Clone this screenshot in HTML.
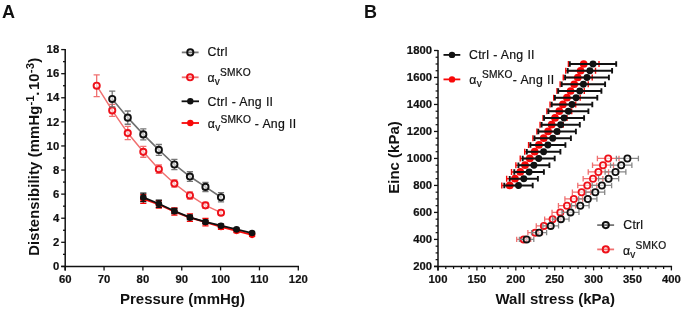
<!DOCTYPE html>
<html><head><meta charset="utf-8"><style>
html,body{margin:0;padding:0;background:#fff;}
body{width:685px;height:311px;overflow:hidden;}
svg{display:block;will-change:transform;}
text{font-family:"Liberation Sans", sans-serif;fill:#111;}
.tk{font-size:11.3px;font-weight:bold;stroke:#111;stroke-width:0.2px;}
.ttl{font-size:15px;font-weight:bold;}
.sup{font-size:11.5px;}
.lg{font-size:12.3px;stroke:#111;stroke-width:0.2px;word-spacing:0.4px;letter-spacing:0.22px;}
.sub{font-size:10px;}
.sup2{font-size:10.2px;}
.pl{font-size:18px;font-weight:bold;}
</style></head><body>
<svg width="685" height="311" viewBox="0 0 685 311">
<line x1="65.20" y1="49.09" x2="65.20" y2="270.40" stroke="#111" stroke-width="1.5"/>
<line x1="61.20" y1="266.40" x2="299.00" y2="266.40" stroke="#111" stroke-width="1.5"/>
<line x1="61.20" y1="266.40" x2="65.20" y2="266.40" stroke="#111" stroke-width="1.3"/>
<text x="59.20" y="270.10" text-anchor="end" class="tk">0</text>
<line x1="61.20" y1="242.31" x2="65.20" y2="242.31" stroke="#111" stroke-width="1.3"/>
<text x="59.20" y="246.01" text-anchor="end" class="tk">2</text>
<line x1="61.20" y1="218.22" x2="65.20" y2="218.22" stroke="#111" stroke-width="1.3"/>
<text x="59.20" y="221.92" text-anchor="end" class="tk">4</text>
<line x1="61.20" y1="194.13" x2="65.20" y2="194.13" stroke="#111" stroke-width="1.3"/>
<text x="59.20" y="197.83" text-anchor="end" class="tk">6</text>
<line x1="61.20" y1="170.04" x2="65.20" y2="170.04" stroke="#111" stroke-width="1.3"/>
<text x="59.20" y="173.74" text-anchor="end" class="tk">8</text>
<line x1="61.20" y1="145.95" x2="65.20" y2="145.95" stroke="#111" stroke-width="1.3"/>
<text x="59.20" y="149.65" text-anchor="end" class="tk">10</text>
<line x1="61.20" y1="121.86" x2="65.20" y2="121.86" stroke="#111" stroke-width="1.3"/>
<text x="59.20" y="125.56" text-anchor="end" class="tk">12</text>
<line x1="61.20" y1="97.77" x2="65.20" y2="97.77" stroke="#111" stroke-width="1.3"/>
<text x="59.20" y="101.47" text-anchor="end" class="tk">14</text>
<line x1="61.20" y1="73.68" x2="65.20" y2="73.68" stroke="#111" stroke-width="1.3"/>
<text x="59.20" y="77.38" text-anchor="end" class="tk">16</text>
<line x1="61.20" y1="49.59" x2="65.20" y2="49.59" stroke="#111" stroke-width="1.3"/>
<text x="59.20" y="53.29" text-anchor="end" class="tk">18</text>
<line x1="63.00" y1="254.35" x2="65.20" y2="254.35" stroke="#111" stroke-width="1.3"/>
<line x1="63.00" y1="230.26" x2="65.20" y2="230.26" stroke="#111" stroke-width="1.3"/>
<line x1="63.00" y1="206.17" x2="65.20" y2="206.17" stroke="#111" stroke-width="1.3"/>
<line x1="63.00" y1="182.08" x2="65.20" y2="182.08" stroke="#111" stroke-width="1.3"/>
<line x1="63.00" y1="157.99" x2="65.20" y2="157.99" stroke="#111" stroke-width="1.3"/>
<line x1="63.00" y1="133.90" x2="65.20" y2="133.90" stroke="#111" stroke-width="1.3"/>
<line x1="63.00" y1="109.81" x2="65.20" y2="109.81" stroke="#111" stroke-width="1.3"/>
<line x1="63.00" y1="85.72" x2="65.20" y2="85.72" stroke="#111" stroke-width="1.3"/>
<line x1="63.00" y1="61.63" x2="65.20" y2="61.63" stroke="#111" stroke-width="1.3"/>
<line x1="65.20" y1="266.40" x2="65.20" y2="270.40" stroke="#111" stroke-width="1.3"/>
<text x="65.20" y="283.00" text-anchor="middle" class="tk">60</text>
<line x1="104.05" y1="266.40" x2="104.05" y2="270.40" stroke="#111" stroke-width="1.3"/>
<text x="104.05" y="283.00" text-anchor="middle" class="tk">70</text>
<line x1="142.90" y1="266.40" x2="142.90" y2="270.40" stroke="#111" stroke-width="1.3"/>
<text x="142.90" y="283.00" text-anchor="middle" class="tk">80</text>
<line x1="181.75" y1="266.40" x2="181.75" y2="270.40" stroke="#111" stroke-width="1.3"/>
<text x="181.75" y="283.00" text-anchor="middle" class="tk">90</text>
<line x1="220.60" y1="266.40" x2="220.60" y2="270.40" stroke="#111" stroke-width="1.3"/>
<text x="220.60" y="283.00" text-anchor="middle" class="tk">100</text>
<line x1="259.45" y1="266.40" x2="259.45" y2="270.40" stroke="#111" stroke-width="1.3"/>
<text x="259.45" y="283.00" text-anchor="middle" class="tk">110</text>
<line x1="298.30" y1="266.40" x2="298.30" y2="270.40" stroke="#111" stroke-width="1.3"/>
<text x="298.30" y="283.00" text-anchor="middle" class="tk">120</text>
<text x="182.5" y="304" text-anchor="middle" class="ttl">Pressure (mmHg)</text>
<text transform="translate(38.6,156.7) rotate(-90)" text-anchor="middle" class="ttl" style="font-size:14.8px;letter-spacing:0.15px">Distensibility (mmHg<tspan dy="-5" class="sup">-1</tspan><tspan dy="5" dx="-0.8">.</tspan><tspan dx="1.6">10</tspan><tspan dy="-5" class="sup">-3</tspan><tspan dy="5">)</tspan></text>
<line x1="438.00" y1="50.00" x2="438.00" y2="270.40" stroke="#111" stroke-width="1.5"/>
<line x1="434.00" y1="266.40" x2="672.10" y2="266.40" stroke="#111" stroke-width="1.5"/>
<line x1="434.00" y1="266.40" x2="438.00" y2="266.40" stroke="#111" stroke-width="1.3"/>
<text x="432.00" y="269.70" text-anchor="end" class="tk">200</text>
<line x1="434.00" y1="239.41" x2="438.00" y2="239.41" stroke="#111" stroke-width="1.3"/>
<text x="432.00" y="242.71" text-anchor="end" class="tk">400</text>
<line x1="434.00" y1="212.42" x2="438.00" y2="212.42" stroke="#111" stroke-width="1.3"/>
<text x="432.00" y="215.72" text-anchor="end" class="tk">600</text>
<line x1="434.00" y1="185.44" x2="438.00" y2="185.44" stroke="#111" stroke-width="1.3"/>
<text x="432.00" y="188.74" text-anchor="end" class="tk">800</text>
<line x1="434.00" y1="158.45" x2="438.00" y2="158.45" stroke="#111" stroke-width="1.3"/>
<text x="432.00" y="161.75" text-anchor="end" class="tk">1000</text>
<line x1="434.00" y1="131.46" x2="438.00" y2="131.46" stroke="#111" stroke-width="1.3"/>
<text x="432.00" y="134.76" text-anchor="end" class="tk">1200</text>
<line x1="434.00" y1="104.47" x2="438.00" y2="104.47" stroke="#111" stroke-width="1.3"/>
<text x="432.00" y="107.77" text-anchor="end" class="tk">1400</text>
<line x1="434.00" y1="77.48" x2="438.00" y2="77.48" stroke="#111" stroke-width="1.3"/>
<text x="432.00" y="80.78" text-anchor="end" class="tk">1600</text>
<line x1="434.00" y1="50.50" x2="438.00" y2="50.50" stroke="#111" stroke-width="1.3"/>
<text x="432.00" y="53.80" text-anchor="end" class="tk">1800</text>
<line x1="435.60" y1="259.65" x2="438.00" y2="259.65" stroke="#111" stroke-width="1.2"/>
<line x1="435.60" y1="252.91" x2="438.00" y2="252.91" stroke="#111" stroke-width="1.2"/>
<line x1="435.60" y1="246.16" x2="438.00" y2="246.16" stroke="#111" stroke-width="1.2"/>
<line x1="435.60" y1="232.66" x2="438.00" y2="232.66" stroke="#111" stroke-width="1.2"/>
<line x1="435.60" y1="225.92" x2="438.00" y2="225.92" stroke="#111" stroke-width="1.2"/>
<line x1="435.60" y1="219.17" x2="438.00" y2="219.17" stroke="#111" stroke-width="1.2"/>
<line x1="435.60" y1="205.68" x2="438.00" y2="205.68" stroke="#111" stroke-width="1.2"/>
<line x1="435.60" y1="198.93" x2="438.00" y2="198.93" stroke="#111" stroke-width="1.2"/>
<line x1="435.60" y1="192.18" x2="438.00" y2="192.18" stroke="#111" stroke-width="1.2"/>
<line x1="435.60" y1="178.69" x2="438.00" y2="178.69" stroke="#111" stroke-width="1.2"/>
<line x1="435.60" y1="171.94" x2="438.00" y2="171.94" stroke="#111" stroke-width="1.2"/>
<line x1="435.60" y1="165.19" x2="438.00" y2="165.19" stroke="#111" stroke-width="1.2"/>
<line x1="435.60" y1="151.70" x2="438.00" y2="151.70" stroke="#111" stroke-width="1.2"/>
<line x1="435.60" y1="144.95" x2="438.00" y2="144.95" stroke="#111" stroke-width="1.2"/>
<line x1="435.60" y1="138.21" x2="438.00" y2="138.21" stroke="#111" stroke-width="1.2"/>
<line x1="435.60" y1="124.71" x2="438.00" y2="124.71" stroke="#111" stroke-width="1.2"/>
<line x1="435.60" y1="117.97" x2="438.00" y2="117.97" stroke="#111" stroke-width="1.2"/>
<line x1="435.60" y1="111.22" x2="438.00" y2="111.22" stroke="#111" stroke-width="1.2"/>
<line x1="435.60" y1="97.72" x2="438.00" y2="97.72" stroke="#111" stroke-width="1.2"/>
<line x1="435.60" y1="90.98" x2="438.00" y2="90.98" stroke="#111" stroke-width="1.2"/>
<line x1="435.60" y1="84.23" x2="438.00" y2="84.23" stroke="#111" stroke-width="1.2"/>
<line x1="435.60" y1="70.74" x2="438.00" y2="70.74" stroke="#111" stroke-width="1.2"/>
<line x1="435.60" y1="63.99" x2="438.00" y2="63.99" stroke="#111" stroke-width="1.2"/>
<line x1="435.60" y1="57.24" x2="438.00" y2="57.24" stroke="#111" stroke-width="1.2"/>
<line x1="438.00" y1="266.40" x2="438.00" y2="270.40" stroke="#111" stroke-width="1.3"/>
<text x="438.00" y="283.00" text-anchor="middle" class="tk">100</text>
<line x1="476.90" y1="266.40" x2="476.90" y2="270.40" stroke="#111" stroke-width="1.3"/>
<text x="476.90" y="283.00" text-anchor="middle" class="tk">150</text>
<line x1="515.80" y1="266.40" x2="515.80" y2="270.40" stroke="#111" stroke-width="1.3"/>
<text x="515.80" y="283.00" text-anchor="middle" class="tk">200</text>
<line x1="554.70" y1="266.40" x2="554.70" y2="270.40" stroke="#111" stroke-width="1.3"/>
<text x="554.70" y="283.00" text-anchor="middle" class="tk">250</text>
<line x1="593.60" y1="266.40" x2="593.60" y2="270.40" stroke="#111" stroke-width="1.3"/>
<text x="593.60" y="283.00" text-anchor="middle" class="tk">300</text>
<line x1="632.50" y1="266.40" x2="632.50" y2="270.40" stroke="#111" stroke-width="1.3"/>
<text x="632.50" y="283.00" text-anchor="middle" class="tk">350</text>
<line x1="671.40" y1="266.40" x2="671.40" y2="270.40" stroke="#111" stroke-width="1.3"/>
<text x="671.40" y="283.00" text-anchor="middle" class="tk">400</text>
<line x1="445.78" y1="266.40" x2="445.78" y2="268.90" stroke="#111" stroke-width="1.2"/>
<line x1="453.56" y1="266.40" x2="453.56" y2="268.90" stroke="#111" stroke-width="1.2"/>
<line x1="461.34" y1="266.40" x2="461.34" y2="268.90" stroke="#111" stroke-width="1.2"/>
<line x1="469.12" y1="266.40" x2="469.12" y2="268.90" stroke="#111" stroke-width="1.2"/>
<line x1="484.68" y1="266.40" x2="484.68" y2="268.90" stroke="#111" stroke-width="1.2"/>
<line x1="492.46" y1="266.40" x2="492.46" y2="268.90" stroke="#111" stroke-width="1.2"/>
<line x1="500.24" y1="266.40" x2="500.24" y2="268.90" stroke="#111" stroke-width="1.2"/>
<line x1="508.02" y1="266.40" x2="508.02" y2="268.90" stroke="#111" stroke-width="1.2"/>
<line x1="523.58" y1="266.40" x2="523.58" y2="268.90" stroke="#111" stroke-width="1.2"/>
<line x1="531.36" y1="266.40" x2="531.36" y2="268.90" stroke="#111" stroke-width="1.2"/>
<line x1="539.14" y1="266.40" x2="539.14" y2="268.90" stroke="#111" stroke-width="1.2"/>
<line x1="546.92" y1="266.40" x2="546.92" y2="268.90" stroke="#111" stroke-width="1.2"/>
<line x1="562.48" y1="266.40" x2="562.48" y2="268.90" stroke="#111" stroke-width="1.2"/>
<line x1="570.26" y1="266.40" x2="570.26" y2="268.90" stroke="#111" stroke-width="1.2"/>
<line x1="578.04" y1="266.40" x2="578.04" y2="268.90" stroke="#111" stroke-width="1.2"/>
<line x1="585.82" y1="266.40" x2="585.82" y2="268.90" stroke="#111" stroke-width="1.2"/>
<line x1="601.38" y1="266.40" x2="601.38" y2="268.90" stroke="#111" stroke-width="1.2"/>
<line x1="609.16" y1="266.40" x2="609.16" y2="268.90" stroke="#111" stroke-width="1.2"/>
<line x1="616.94" y1="266.40" x2="616.94" y2="268.90" stroke="#111" stroke-width="1.2"/>
<line x1="624.72" y1="266.40" x2="624.72" y2="268.90" stroke="#111" stroke-width="1.2"/>
<line x1="640.28" y1="266.40" x2="640.28" y2="268.90" stroke="#111" stroke-width="1.2"/>
<line x1="648.06" y1="266.40" x2="648.06" y2="268.90" stroke="#111" stroke-width="1.2"/>
<line x1="655.84" y1="266.40" x2="655.84" y2="268.90" stroke="#111" stroke-width="1.2"/>
<line x1="663.62" y1="266.40" x2="663.62" y2="268.90" stroke="#111" stroke-width="1.2"/>
<text x="555.2" y="304" text-anchor="middle" class="ttl">Wall stress (kPa)</text>
<text transform="translate(399.2,157.5) rotate(-90)" text-anchor="middle" class="ttl">Einc (kPa)</text>
<path d="M96.68 74.88V96.57M93.58 74.88H99.78M93.58 96.57H99.78" stroke="#f07070" stroke-width="1.3" fill="none"/>
<path d="M112.22 104.39V116.44M109.12 104.39H115.32M109.12 116.44H115.32" stroke="#f07070" stroke-width="1.3" fill="none"/>
<path d="M127.76 126.44V139.69M124.66 126.44H130.86M124.66 139.69H130.86" stroke="#f07070" stroke-width="1.3" fill="none"/>
<path d="M143.30 146.43V157.27M140.20 146.43H146.40M140.20 157.27H146.40" stroke="#f07070" stroke-width="1.3" fill="none"/>
<path d="M158.84 164.98V173.41M155.74 164.98H161.94M155.74 173.41H161.94" stroke="#f07070" stroke-width="1.3" fill="none"/>
<path d="M174.38 179.92V187.14M171.28 179.92H177.48M171.28 187.14H177.48" stroke="#f07070" stroke-width="1.3" fill="none"/>
<path d="M189.92 191.84V199.07M186.82 191.84H193.02M186.82 199.07H193.02" stroke="#f07070" stroke-width="1.3" fill="none"/>
<path d="M205.46 202.32V208.34M202.36 202.32H208.56M202.36 208.34H208.56" stroke="#f07070" stroke-width="1.3" fill="none"/>
<path d="M221.00 210.27V215.09M217.90 210.27H224.10M217.90 215.09H224.10" stroke="#f07070" stroke-width="1.3" fill="none"/>
<path d="M96.68 85.72 L112.22 110.42 L127.76 133.06 L143.30 151.85 L158.84 169.20 L174.38 183.53 L189.92 195.45 L205.46 205.33 L221.00 212.68" stroke="#f07070" stroke-width="1.5" fill="none"/>
<circle cx="96.68" cy="85.72" r="3.1" fill="#fff" fill-opacity="0.6" stroke="#ee1019" stroke-width="1.9"/>
<circle cx="112.22" cy="110.42" r="3.1" fill="#fff" fill-opacity="0.6" stroke="#ee1019" stroke-width="1.9"/>
<circle cx="127.76" cy="133.06" r="3.1" fill="#fff" fill-opacity="0.6" stroke="#ee1019" stroke-width="1.9"/>
<circle cx="143.30" cy="151.85" r="3.1" fill="#fff" fill-opacity="0.6" stroke="#ee1019" stroke-width="1.9"/>
<circle cx="158.84" cy="169.20" r="3.1" fill="#fff" fill-opacity="0.6" stroke="#ee1019" stroke-width="1.9"/>
<circle cx="174.38" cy="183.53" r="3.1" fill="#fff" fill-opacity="0.6" stroke="#ee1019" stroke-width="1.9"/>
<circle cx="189.92" cy="195.45" r="3.1" fill="#fff" fill-opacity="0.6" stroke="#ee1019" stroke-width="1.9"/>
<circle cx="205.46" cy="205.33" r="3.1" fill="#fff" fill-opacity="0.6" stroke="#ee1019" stroke-width="1.9"/>
<circle cx="221.00" cy="212.68" r="3.1" fill="#fff" fill-opacity="0.6" stroke="#ee1019" stroke-width="1.9"/>
<path d="M112.22 91.15V106.80M109.12 91.15H115.32M109.12 106.80H115.32" stroke="#777" stroke-width="1.3" fill="none"/>
<path d="M127.76 111.02V124.27M124.66 111.02H130.86M124.66 124.27H130.86" stroke="#777" stroke-width="1.3" fill="none"/>
<path d="M143.30 128.97V139.81M140.20 128.97H146.40M140.20 139.81H146.40" stroke="#777" stroke-width="1.3" fill="none"/>
<path d="M158.84 144.50V155.35M155.74 144.50H161.94M155.74 155.35H161.94" stroke="#777" stroke-width="1.3" fill="none"/>
<path d="M174.38 159.44V169.56M171.28 159.44H177.48M171.28 169.56H177.48" stroke="#777" stroke-width="1.3" fill="none"/>
<path d="M189.92 171.73V181.36M186.82 171.73H193.02M186.82 181.36H193.02" stroke="#777" stroke-width="1.3" fill="none"/>
<path d="M205.46 182.33V191.48M202.36 182.33H208.56M202.36 191.48H208.56" stroke="#777" stroke-width="1.3" fill="none"/>
<path d="M221.00 192.68V201.84M217.90 192.68H224.10M217.90 201.84H224.10" stroke="#777" stroke-width="1.3" fill="none"/>
<path d="M112.22 98.97 L127.76 117.64 L143.30 134.39 L158.84 149.92 L174.38 164.50 L189.92 176.54 L205.46 186.90 L221.00 197.26" stroke="#707070" stroke-width="1.6" fill="none"/>
<circle cx="112.22" cy="98.97" r="3.1" fill="#fff" fill-opacity="0.6" stroke="#111" stroke-width="1.9"/>
<circle cx="127.76" cy="117.64" r="3.1" fill="#fff" fill-opacity="0.6" stroke="#111" stroke-width="1.9"/>
<circle cx="143.30" cy="134.39" r="3.1" fill="#fff" fill-opacity="0.6" stroke="#111" stroke-width="1.9"/>
<circle cx="158.84" cy="149.92" r="3.1" fill="#fff" fill-opacity="0.6" stroke="#111" stroke-width="1.9"/>
<circle cx="174.38" cy="164.50" r="3.1" fill="#fff" fill-opacity="0.6" stroke="#111" stroke-width="1.9"/>
<circle cx="189.92" cy="176.54" r="3.1" fill="#fff" fill-opacity="0.6" stroke="#111" stroke-width="1.9"/>
<circle cx="205.46" cy="186.90" r="3.1" fill="#fff" fill-opacity="0.6" stroke="#111" stroke-width="1.9"/>
<circle cx="221.00" cy="197.26" r="3.1" fill="#fff" fill-opacity="0.6" stroke="#111" stroke-width="1.9"/>
<path d="M143.30 194.61V203.28M140.20 194.61H146.40M140.20 203.28H146.40" stroke="#f80808" stroke-width="1.3" fill="none"/>
<path d="M158.84 200.75V208.22M155.74 200.75H161.94M155.74 208.22H161.94" stroke="#f80808" stroke-width="1.3" fill="none"/>
<path d="M174.38 207.98V215.21M171.28 207.98H177.48M171.28 215.21H177.48" stroke="#f80808" stroke-width="1.3" fill="none"/>
<path d="M189.92 213.88V221.35M186.82 213.88H193.02M186.82 221.35H193.02" stroke="#f80808" stroke-width="1.3" fill="none"/>
<path d="M205.46 218.46V225.93M202.36 218.46H208.56M202.36 225.93H208.56" stroke="#f80808" stroke-width="1.3" fill="none"/>
<path d="M221.00 224.48V229.30M217.90 224.48H224.10M217.90 229.30H224.10" stroke="#f80808" stroke-width="1.3" fill="none"/>
<path d="M236.54 229.06V232.67M233.44 229.06H239.64M233.44 232.67H239.64" stroke="#f80808" stroke-width="1.3" fill="none"/>
<path d="M252.08 233.40V236.29M248.98 233.40H255.18M248.98 236.29H255.18" stroke="#f80808" stroke-width="1.3" fill="none"/>
<path d="M143.30 198.95 L158.84 204.49 L174.38 211.60 L189.92 217.62 L205.46 222.19 L221.00 226.89 L236.54 230.87 L252.08 234.84" stroke="#f80808" stroke-width="1.8" fill="none"/>
<circle cx="143.30" cy="198.95" r="3.3" fill="#f80808"/>
<circle cx="158.84" cy="204.49" r="3.3" fill="#f80808"/>
<circle cx="174.38" cy="211.60" r="3.3" fill="#f80808"/>
<circle cx="189.92" cy="217.62" r="3.3" fill="#f80808"/>
<circle cx="205.46" cy="222.19" r="3.3" fill="#f80808"/>
<circle cx="221.00" cy="226.89" r="3.3" fill="#f80808"/>
<circle cx="236.54" cy="230.87" r="3.3" fill="#f80808"/>
<circle cx="252.08" cy="234.84" r="3.3" fill="#f80808"/>
<path d="M143.30 193.05V201.72M140.20 193.05H146.40M140.20 201.72H146.40" stroke="#111" stroke-width="1.3" fill="none"/>
<path d="M158.84 200.15V207.38M155.74 200.15H161.94M155.74 207.38H161.94" stroke="#111" stroke-width="1.3" fill="none"/>
<path d="M174.38 208.34V213.64M171.28 208.34H177.48M171.28 213.64H177.48" stroke="#111" stroke-width="1.3" fill="none"/>
<path d="M189.92 215.21V219.54M186.82 215.21H193.02M186.82 219.54H193.02" stroke="#111" stroke-width="1.3" fill="none"/>
<path d="M205.46 220.15V223.76M202.36 220.15H208.56M202.36 223.76H208.56" stroke="#111" stroke-width="1.3" fill="none"/>
<path d="M221.00 224.24V227.13M217.90 224.24H224.10M217.90 227.13H224.10" stroke="#111" stroke-width="1.3" fill="none"/>
<path d="M236.54 228.22V230.63M233.44 228.22H239.64M233.44 230.63H239.64" stroke="#111" stroke-width="1.3" fill="none"/>
<path d="M252.08 232.07V234.00M248.98 232.07H255.18M248.98 234.00H255.18" stroke="#111" stroke-width="1.3" fill="none"/>
<path d="M143.30 197.38 L158.84 203.77 L174.38 210.99 L189.92 217.38 L205.46 221.95 L221.00 225.69 L236.54 229.42 L252.08 233.04" stroke="#111" stroke-width="1.8" fill="none"/>
<circle cx="143.30" cy="197.38" r="3.3" fill="#111"/>
<circle cx="158.84" cy="203.77" r="3.3" fill="#111"/>
<circle cx="174.38" cy="210.99" r="3.3" fill="#111"/>
<circle cx="189.92" cy="217.38" r="3.3" fill="#111"/>
<circle cx="205.46" cy="221.95" r="3.3" fill="#111"/>
<circle cx="221.00" cy="225.69" r="3.3" fill="#111"/>
<circle cx="236.54" cy="229.42" r="3.3" fill="#111"/>
<circle cx="252.08" cy="233.04" r="3.3" fill="#111"/>
<path d="M516.70 239.41H530.70M516.70 236.71V242.11M530.70 236.71V242.11" stroke="#f07070" stroke-width="1.3" fill="none"/>
<path d="M527.88 232.66H542.52M527.88 229.96V235.36M542.52 229.96V235.36" stroke="#f07070" stroke-width="1.3" fill="none"/>
<path d="M536.27 225.92H551.53M536.27 223.22V228.62M551.53 223.22V228.62" stroke="#f07070" stroke-width="1.3" fill="none"/>
<path d="M544.65 219.17H560.55M544.65 216.47V221.87M560.55 216.47V221.87" stroke="#f07070" stroke-width="1.3" fill="none"/>
<path d="M552.03 212.42H568.57M552.03 209.72V215.12M568.57 209.72V215.12" stroke="#f07070" stroke-width="1.3" fill="none"/>
<path d="M558.42 205.68H575.58M558.42 202.98V208.38M575.58 202.98V208.38" stroke="#f07070" stroke-width="1.3" fill="none"/>
<path d="M564.90 198.93H582.70M564.90 196.23V201.63M582.70 196.23V201.63" stroke="#f07070" stroke-width="1.3" fill="none"/>
<path d="M572.38 192.18H590.82M572.38 189.48V194.88M590.82 189.48V194.88" stroke="#f07070" stroke-width="1.3" fill="none"/>
<path d="M577.77 185.44H596.83M577.77 182.74V188.14M596.83 182.74V188.14" stroke="#f07070" stroke-width="1.3" fill="none"/>
<path d="M583.15 178.69H602.85M583.15 175.99V181.39M602.85 175.99V181.39" stroke="#f07070" stroke-width="1.3" fill="none"/>
<path d="M588.23 171.94H608.57M588.23 169.24V174.64M608.57 169.24V174.64" stroke="#f07070" stroke-width="1.3" fill="none"/>
<path d="M592.52 165.19H613.48M592.52 162.50V167.89M613.48 162.50V167.89" stroke="#f07070" stroke-width="1.3" fill="none"/>
<path d="M597.40 158.45H619.00M597.40 155.75V161.15M619.00 155.75V161.15" stroke="#f07070" stroke-width="1.3" fill="none"/>
<circle cx="523.70" cy="239.41" r="3.1" fill="#fff" fill-opacity="0.6" stroke="#ee1019" stroke-width="1.8"/>
<circle cx="535.20" cy="232.66" r="3.1" fill="#fff" fill-opacity="0.6" stroke="#ee1019" stroke-width="1.8"/>
<circle cx="543.90" cy="225.92" r="3.1" fill="#fff" fill-opacity="0.6" stroke="#ee1019" stroke-width="1.8"/>
<circle cx="552.60" cy="219.17" r="3.1" fill="#fff" fill-opacity="0.6" stroke="#ee1019" stroke-width="1.8"/>
<circle cx="560.30" cy="212.42" r="3.1" fill="#fff" fill-opacity="0.6" stroke="#ee1019" stroke-width="1.8"/>
<circle cx="567.00" cy="205.68" r="3.1" fill="#fff" fill-opacity="0.6" stroke="#ee1019" stroke-width="1.8"/>
<circle cx="573.80" cy="198.93" r="3.1" fill="#fff" fill-opacity="0.6" stroke="#ee1019" stroke-width="1.8"/>
<circle cx="581.60" cy="192.18" r="3.1" fill="#fff" fill-opacity="0.6" stroke="#ee1019" stroke-width="1.8"/>
<circle cx="587.30" cy="185.44" r="3.1" fill="#fff" fill-opacity="0.6" stroke="#ee1019" stroke-width="1.8"/>
<circle cx="593.00" cy="178.69" r="3.1" fill="#fff" fill-opacity="0.6" stroke="#ee1019" stroke-width="1.8"/>
<circle cx="598.40" cy="171.94" r="3.1" fill="#fff" fill-opacity="0.6" stroke="#ee1019" stroke-width="1.8"/>
<circle cx="603.00" cy="165.19" r="3.1" fill="#fff" fill-opacity="0.6" stroke="#ee1019" stroke-width="1.8"/>
<circle cx="608.20" cy="158.45" r="3.1" fill="#fff" fill-opacity="0.6" stroke="#ee1019" stroke-width="1.8"/>
<path d="M519.40 239.41H533.80M519.40 236.71V242.11M533.80 236.71V242.11" stroke="#888" stroke-width="1.3" fill="none"/>
<path d="M531.58 232.66H546.62M531.58 229.96V235.36M546.62 229.96V235.36" stroke="#888" stroke-width="1.3" fill="none"/>
<path d="M542.87 225.92H558.53M542.87 223.22V228.62M558.53 223.22V228.62" stroke="#888" stroke-width="1.3" fill="none"/>
<path d="M552.75 219.17H569.05M552.75 216.47V221.87M569.05 216.47V221.87" stroke="#888" stroke-width="1.3" fill="none"/>
<path d="M562.03 212.42H578.97M562.03 209.72V215.12M578.97 209.72V215.12" stroke="#888" stroke-width="1.3" fill="none"/>
<path d="M571.52 205.68H589.08M571.52 202.98V208.38M589.08 202.98V208.38" stroke="#888" stroke-width="1.3" fill="none"/>
<path d="M578.70 198.93H596.90M578.70 196.23V201.63M596.90 196.23V201.63" stroke="#888" stroke-width="1.3" fill="none"/>
<path d="M585.88 192.18H604.72M585.88 189.48V194.88M604.72 189.48V194.88" stroke="#888" stroke-width="1.3" fill="none"/>
<path d="M592.17 185.44H611.63M592.17 182.74V188.14M611.63 182.74V188.14" stroke="#888" stroke-width="1.3" fill="none"/>
<path d="M598.55 178.69H618.65M598.55 175.99V181.39M618.65 175.99V181.39" stroke="#888" stroke-width="1.3" fill="none"/>
<path d="M605.13 171.94H625.87M605.13 169.24V174.64M625.87 169.24V174.64" stroke="#888" stroke-width="1.3" fill="none"/>
<path d="M610.52 165.19H631.88M610.52 162.50V167.89M631.88 162.50V167.89" stroke="#888" stroke-width="1.3" fill="none"/>
<path d="M616.40 158.45H638.40M616.40 155.75V161.15M638.40 155.75V161.15" stroke="#888" stroke-width="1.3" fill="none"/>
<circle cx="526.60" cy="239.41" r="3.1" fill="#fff" fill-opacity="0.6" stroke="#111" stroke-width="1.8"/>
<circle cx="539.10" cy="232.66" r="3.1" fill="#fff" fill-opacity="0.6" stroke="#111" stroke-width="1.8"/>
<circle cx="550.70" cy="225.92" r="3.1" fill="#fff" fill-opacity="0.6" stroke="#111" stroke-width="1.8"/>
<circle cx="560.90" cy="219.17" r="3.1" fill="#fff" fill-opacity="0.6" stroke="#111" stroke-width="1.8"/>
<circle cx="570.50" cy="212.42" r="3.1" fill="#fff" fill-opacity="0.6" stroke="#111" stroke-width="1.8"/>
<circle cx="580.30" cy="205.68" r="3.1" fill="#fff" fill-opacity="0.6" stroke="#111" stroke-width="1.8"/>
<circle cx="587.80" cy="198.93" r="3.1" fill="#fff" fill-opacity="0.6" stroke="#111" stroke-width="1.8"/>
<circle cx="595.30" cy="192.18" r="3.1" fill="#fff" fill-opacity="0.6" stroke="#111" stroke-width="1.8"/>
<circle cx="601.90" cy="185.44" r="3.1" fill="#fff" fill-opacity="0.6" stroke="#111" stroke-width="1.8"/>
<circle cx="608.60" cy="178.69" r="3.1" fill="#fff" fill-opacity="0.6" stroke="#111" stroke-width="1.8"/>
<circle cx="615.50" cy="171.94" r="3.1" fill="#fff" fill-opacity="0.6" stroke="#111" stroke-width="1.8"/>
<circle cx="621.20" cy="165.19" r="3.1" fill="#fff" fill-opacity="0.6" stroke="#111" stroke-width="1.8"/>
<circle cx="627.40" cy="158.45" r="3.1" fill="#fff" fill-opacity="0.6" stroke="#111" stroke-width="1.8"/>
<path d="M501.80 185.44H517.60M501.80 182.44V188.44M517.60 182.44V188.44" stroke="#f80808" stroke-width="1.4" fill="none"/>
<path d="M506.66 178.69H523.28M506.66 175.69V181.69M523.28 175.69V181.69" stroke="#f80808" stroke-width="1.4" fill="none"/>
<path d="M511.52 171.94H528.97M511.52 168.94V174.94M528.97 168.94V174.94" stroke="#f80808" stroke-width="1.4" fill="none"/>
<path d="M515.88 165.19H534.15M515.88 162.19V168.19M534.15 162.19V168.19" stroke="#f80808" stroke-width="1.4" fill="none"/>
<path d="M520.24 158.45H539.33M520.24 155.45V161.45M539.33 155.45V161.45" stroke="#f80808" stroke-width="1.4" fill="none"/>
<path d="M524.71 151.70H544.62M524.71 148.70V154.70M544.62 148.70V154.70" stroke="#f80808" stroke-width="1.4" fill="none"/>
<path d="M528.57 144.95H549.30M528.57 141.95V147.95M549.30 141.95V147.95" stroke="#f80808" stroke-width="1.4" fill="none"/>
<path d="M532.93 138.21H554.48M532.93 135.21V141.21M554.48 135.21V141.21" stroke="#f80808" stroke-width="1.4" fill="none"/>
<path d="M536.89 131.46H559.27M536.89 128.46V134.46M559.27 128.46V134.46" stroke="#f80808" stroke-width="1.4" fill="none"/>
<path d="M540.05 124.71H563.25M540.05 121.71V127.71M563.25 121.71V127.71" stroke="#f80808" stroke-width="1.4" fill="none"/>
<path d="M543.01 117.97H567.03M543.01 114.97V120.97M567.03 114.97V120.97" stroke="#f80808" stroke-width="1.4" fill="none"/>
<path d="M546.87 111.22H571.72M546.87 108.22V114.22M571.72 108.22V114.22" stroke="#f80808" stroke-width="1.4" fill="none"/>
<path d="M550.03 104.47H575.70M550.03 101.47V107.47M575.70 101.47V107.47" stroke="#f80808" stroke-width="1.4" fill="none"/>
<path d="M553.69 97.72H580.18M553.69 94.72V100.72M580.18 94.72V100.72" stroke="#f80808" stroke-width="1.4" fill="none"/>
<path d="M556.96 90.98H584.27M556.96 87.98V93.98M584.27 87.98V93.98" stroke="#f80808" stroke-width="1.4" fill="none"/>
<path d="M560.12 84.23H588.25M560.12 81.23V87.23M588.25 81.23V87.23" stroke="#f80808" stroke-width="1.4" fill="none"/>
<path d="M563.28 77.48H592.23M563.28 74.48V80.48M592.23 74.48V80.48" stroke="#f80808" stroke-width="1.4" fill="none"/>
<path d="M565.74 70.74H595.52M565.74 67.74V73.74M595.52 67.74V73.74" stroke="#f80808" stroke-width="1.4" fill="none"/>
<path d="M568.40 63.99H599.00M568.40 60.99V66.99M599.00 60.99V66.99" stroke="#f80808" stroke-width="1.4" fill="none"/>
<circle cx="509.70" cy="185.44" r="3.85" fill="#f80808"/>
<circle cx="514.97" cy="178.69" r="3.85" fill="#f80808"/>
<circle cx="520.24" cy="171.94" r="3.85" fill="#f80808"/>
<circle cx="525.02" cy="165.19" r="3.85" fill="#f80808"/>
<circle cx="529.79" cy="158.45" r="3.85" fill="#f80808"/>
<circle cx="534.66" cy="151.70" r="3.85" fill="#f80808"/>
<circle cx="538.93" cy="144.95" r="3.85" fill="#f80808"/>
<circle cx="543.71" cy="138.21" r="3.85" fill="#f80808"/>
<circle cx="548.08" cy="131.46" r="3.85" fill="#f80808"/>
<circle cx="551.65" cy="124.71" r="3.85" fill="#f80808"/>
<circle cx="555.02" cy="117.97" r="3.85" fill="#f80808"/>
<circle cx="559.29" cy="111.22" r="3.85" fill="#f80808"/>
<circle cx="562.87" cy="104.47" r="3.85" fill="#f80808"/>
<circle cx="566.94" cy="97.72" r="3.85" fill="#f80808"/>
<circle cx="570.61" cy="90.98" r="3.85" fill="#f80808"/>
<circle cx="574.18" cy="84.23" r="3.85" fill="#f80808"/>
<circle cx="577.76" cy="77.48" r="3.85" fill="#f80808"/>
<circle cx="580.63" cy="70.74" r="3.85" fill="#f80808"/>
<circle cx="583.70" cy="63.99" r="3.85" fill="#f80808"/>
<path d="M504.30 185.44H532.70M504.30 182.74V188.14M532.70 182.74V188.14" stroke="#111" stroke-width="1.9" fill="none"/>
<path d="M509.70 178.69H537.90M509.70 175.99V181.39M537.90 175.99V181.39" stroke="#111" stroke-width="1.9" fill="none"/>
<path d="M514.30 171.94H543.90M514.30 169.24V174.64M543.90 169.24V174.64" stroke="#111" stroke-width="1.9" fill="none"/>
<path d="M518.40 165.19H549.40M518.40 162.50V167.89M549.40 162.50V167.89" stroke="#111" stroke-width="1.9" fill="none"/>
<path d="M522.70 158.45H554.70M522.70 155.75V161.15M554.70 155.75V161.15" stroke="#111" stroke-width="1.9" fill="none"/>
<path d="M526.80 151.70H560.40M526.80 149.00V154.40M560.40 149.00V154.40" stroke="#111" stroke-width="1.9" fill="none"/>
<path d="M530.40 144.95H565.40M530.40 142.25V147.65M565.40 142.25V147.65" stroke="#111" stroke-width="1.9" fill="none"/>
<path d="M534.50 138.21H570.90M534.50 135.51V140.91M570.90 135.51V140.91" stroke="#111" stroke-width="1.9" fill="none"/>
<path d="M538.30 131.46H575.90M538.30 128.76V134.16M575.90 128.76V134.16" stroke="#111" stroke-width="1.9" fill="none"/>
<path d="M541.60 124.71H579.80M541.60 122.01V127.41M579.80 122.01V127.41" stroke="#111" stroke-width="1.9" fill="none"/>
<path d="M544.10 117.97H584.10M544.10 115.27V120.67M584.10 115.27V120.67" stroke="#111" stroke-width="1.9" fill="none"/>
<path d="M548.40 111.22H588.40M548.40 108.52V113.92M588.40 108.52V113.92" stroke="#111" stroke-width="1.9" fill="none"/>
<path d="M551.70 104.47H592.30M551.70 101.77V107.17M592.30 101.77V107.17" stroke="#111" stroke-width="1.9" fill="none"/>
<path d="M554.90 97.72H597.30M554.90 95.02V100.42M597.30 95.02V100.42" stroke="#111" stroke-width="1.9" fill="none"/>
<path d="M558.20 90.98H601.40M558.20 88.28V93.68M601.40 88.28V93.68" stroke="#111" stroke-width="1.9" fill="none"/>
<path d="M561.70 84.23H605.10M561.70 81.53V86.93M605.10 81.53V86.93" stroke="#111" stroke-width="1.9" fill="none"/>
<path d="M565.10 77.48H608.90M565.10 74.78V80.18M608.90 74.78V80.18" stroke="#111" stroke-width="1.9" fill="none"/>
<path d="M567.70 70.74H612.10M567.70 68.04V73.44M612.10 68.04V73.44" stroke="#111" stroke-width="1.9" fill="none"/>
<path d="M569.80 63.99H616.20M569.80 61.29V66.69M616.20 61.29V66.69" stroke="#111" stroke-width="1.9" fill="none"/>
<circle cx="518.50" cy="185.44" r="3.45" fill="#111"/>
<circle cx="523.80" cy="178.69" r="3.45" fill="#111"/>
<circle cx="529.10" cy="171.94" r="3.45" fill="#111"/>
<circle cx="533.90" cy="165.19" r="3.45" fill="#111"/>
<circle cx="538.70" cy="158.45" r="3.45" fill="#111"/>
<circle cx="543.60" cy="151.70" r="3.45" fill="#111"/>
<circle cx="547.90" cy="144.95" r="3.45" fill="#111"/>
<circle cx="552.70" cy="138.21" r="3.45" fill="#111"/>
<circle cx="557.10" cy="131.46" r="3.45" fill="#111"/>
<circle cx="560.70" cy="124.71" r="3.45" fill="#111"/>
<circle cx="564.10" cy="117.97" r="3.45" fill="#111"/>
<circle cx="568.40" cy="111.22" r="3.45" fill="#111"/>
<circle cx="572.00" cy="104.47" r="3.45" fill="#111"/>
<circle cx="576.10" cy="97.72" r="3.45" fill="#111"/>
<circle cx="579.80" cy="90.98" r="3.45" fill="#111"/>
<circle cx="583.40" cy="84.23" r="3.45" fill="#111"/>
<circle cx="587.00" cy="77.48" r="3.45" fill="#111"/>
<circle cx="589.90" cy="70.74" r="3.45" fill="#111"/>
<circle cx="593.00" cy="63.99" r="3.45" fill="#111"/>
<line x1="181.80" y1="52.40" x2="198.60" y2="52.40" stroke="#777" stroke-width="1.8"/>
<circle cx="190.30" cy="52.40" r="3.1" fill="none" stroke="#111" stroke-width="1.9"/>
<text x="207.6" y="56.4" class="lg">Ctrl</text>
<line x1="181.80" y1="77.30" x2="198.60" y2="77.30" stroke="#f07070" stroke-width="1.8"/>
<circle cx="190.10" cy="77.30" r="3.1" fill="none" stroke="#ee1019" stroke-width="1.9"/>
<text x="207.50" y="81.70" class="lg">&#945;<tspan dy="3" class="sub">v</tspan><tspan dy="-8.6" class="sup2">SMKO</tspan></text>
<line x1="181.60" y1="101.30" x2="199.00" y2="101.30" stroke="#111" stroke-width="1.8"/>
<circle cx="190.30" cy="101.30" r="3.2" fill="#111"/>
<text x="207.6" y="105.7" class="lg">Ctrl - Ang II</text>
<line x1="181.60" y1="123.00" x2="199.00" y2="123.00" stroke="#f80808" stroke-width="1.8"/>
<circle cx="190.30" cy="123.00" r="3.2" fill="#f80808"/>
<text x="207.80" y="128.10" class="lg">&#945;<tspan dy="3" class="sub">v</tspan><tspan dy="-8.6" class="sup2">SMKO</tspan><tspan dy="5.6" dx="3.5">- Ang II</tspan></text>
<line x1="443.50" y1="54.90" x2="460.30" y2="54.90" stroke="#111" stroke-width="1.8"/>
<circle cx="452.00" cy="54.90" r="3.2" fill="#111"/>
<text x="469.1" y="59.1" class="lg">Ctrl - Ang II</text>
<line x1="443.50" y1="79.40" x2="460.30" y2="79.40" stroke="#f80808" stroke-width="1.8"/>
<circle cx="452.00" cy="79.40" r="3.2" fill="#f80808"/>
<text x="469.30" y="83.80" class="lg">&#945;<tspan dy="3" class="sub">v</tspan><tspan dy="-8.6" class="sup2">SMKO</tspan><tspan dy="5.6" dx="0">- Ang II</tspan></text>
<line x1="597.20" y1="225.10" x2="614.10" y2="225.10" stroke="#777" stroke-width="1.8"/>
<circle cx="605.80" cy="225.10" r="3.1" fill="none" stroke="#111" stroke-width="1.9"/>
<text x="623.3" y="228.8" class="lg">Ctrl</text>
<line x1="597.20" y1="249.40" x2="614.10" y2="249.40" stroke="#f07070" stroke-width="1.8"/>
<circle cx="605.80" cy="249.40" r="3.1" fill="none" stroke="#ee1019" stroke-width="1.9"/>
<text x="623.00" y="254.50" class="lg">&#945;<tspan dy="3" class="sub">v</tspan><tspan dy="-8.6" class="sup2">SMKO</tspan></text>
<text x="1.9" y="17.8" class="pl">A</text>
<text x="363.9" y="17.8" class="pl">B</text>
</svg>
</body></html>
